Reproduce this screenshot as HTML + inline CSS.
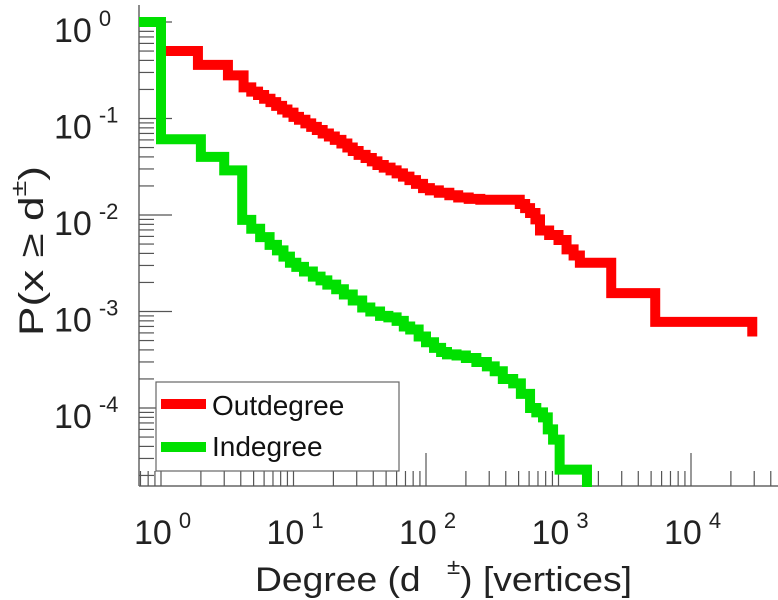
<!DOCTYPE html>
<html><head><meta charset="utf-8"><style>
html,body{margin:0;padding:0;background:#fff;}
svg{display:block;font-family:"Liberation Sans",sans-serif;}
</style></head><body>
<svg id="chart" width="778" height="600" viewBox="0 0 778 600" xmlns="http://www.w3.org/2000/svg">
<defs><clipPath id="clip"><rect x="139" y="0" width="639" height="487"/></clipPath></defs>
<g id="ticks"></g>
<g id="plot" clip-path="url(#clip)"></g>
<g id="labels"></g>
<text x="255" y="591" font-size="34" fill="#222" textLength="377" lengthAdjust="spacingAndGlyphs">Degree (d<tspan dx="24" dy="-17" font-size="22">±</tspan><tspan dy="17">) [vertices]</tspan></text>
<text transform="translate(43,336) rotate(-90)" font-size="34" fill="#222" textLength="170" lengthAdjust="spacingAndGlyphs">P(x ≥ d<tspan dy="-17" font-size="22">±</tspan><tspan dy="17">)</tspan></text>
<g>
<rect x="156" y="382" width="243" height="89" fill="#fff" stroke="#666" stroke-width="1.2"/>
<line x1="161" y1="404" x2="206" y2="404" stroke="#ff0000" stroke-width="10"/>
<text x="212" y="415" font-size="28" fill="#111">Outdegree</text>
<line x1="161" y1="447" x2="206" y2="447" stroke="#00e000" stroke-width="10"/>
<text x="212" y="456" font-size="28" fill="#111">Indegree</text>
</g>
</svg>
<script>
const outDeg = [1,1.9,3.2,4.2,4.8,5.4,6,6.7,7.4,8.2,9,10,11,12.3,13.6,15,16.6,18.5,20.5,23,25.5,28,31,35,39,43,48,54,60,67,75,84,95,107,125,150,175,210,257,510,560,610,670,725,850,1000,1150,1300,1450,2500,5370,29000];
const outP   = [0.5,0.36,0.28,0.21,0.19,0.175,0.16,0.148,0.135,0.124,0.115,0.104,0.097,0.089,0.082,0.076,0.07,0.065,0.06,0.055,0.05,0.046,0.042,0.039,0.036,0.033,0.031,0.029,0.027,0.025,0.023,0.021,0.019,0.018,0.017,0.016,0.0152,0.0147,0.0144,0.013,0.0118,0.0105,0.009,0.0069,0.0062,0.0055,0.0044,0.0038,0.0032,0.00155,0.00078,0.00055];
const inDeg  = [0.5,1,2,3,4.1,4.8,5.6,6.6,7.5,8.4,9.4,10.5,12,14,16,18,21,24,28,33,38,45,52,60,68,76,88,100,115,130,144,170,200,240,288,330,380,455,520,610,680,764,830,910,1020,1640];
const inP    = [1,0.061,0.04,0.029,0.0089,0.0072,0.0059,0.0049,0.0043,0.0037,0.0032,0.0029,0.0026,0.0023,0.0021,0.0019,0.0017,0.0015,0.0013,0.0011,0.001,0.0009,0.00087,0.0008,0.0007,0.00065,0.00055,0.00048,0.00042,0.00038,0.00036,0.00035,0.00033,0.0003,0.00027,0.00024,0.0002,0.00018,0.00014,0.0001,0.00009,0.00008,0.00006,0.000047,0.000023,0.000005];
const xDecades = [0,1,2,3,4];
const yDecades = [0,-1,-2,-3,-4];

const NS="http://www.w3.org/2000/svg";
const X0=161, XD=132.5, Y0=22, YD=96.5, AXL=139, AXB=486;
function sx(v){return X0+Math.log10(v)*XD;}
function sy(v){return Y0-Math.log10(v)*YD;}
function mk(tag,attrs,parent){const e=document.createElementNS(NS,tag);for(const k in attrs)e.setAttribute(k,attrs[k]);parent.appendChild(e);return e;}

const plot=document.getElementById('plot');
function stepPath(xs,ys){
  let d='M'+sx(xs[0])+','+sy(ys[0]);
  for(let i=1;i<xs.length;i++){d+=' H'+sx(xs[i])+' V'+sy(ys[i]);}
  return d;
}
const pOut=mk('path',{d:stepPath(outDeg,outP),fill:'none',stroke:'#ff0000','stroke-width':10,'stroke-linejoin':'miter','stroke-linecap':'butt'},plot);


const pIn=mk('path',{d:stepPath(inDeg,inP),fill:'none',stroke:'#00e000','stroke-width':10,'stroke-linejoin':'miter','stroke-linecap':'butt'},plot);



const tg=document.getElementById('ticks');
const ax=mk('line',{x1:AXL,y1:AXB,x2:778,y2:AXB,stroke:'#666','stroke-width':1.5},tg);


const ay=mk('line',{x1:AXL,y1:5,x2:AXL,y2:AXB,stroke:'#666','stroke-width':1.5},tg);


for(let d=-1;d<=4;d++){
  for(let m=1;m<=9;m++){
    const x=sx(m*Math.pow(10,d));
    if(x<AXL||x>777)continue;
    const len=m===1?33:15;
    const t=mk('line',{x1:x,y1:AXB,x2:x,y2:AXB-len,stroke:'#555','stroke-width':1.2},tg);
    
    
  }
}
for(let d=-5;d<=0;d++){
  for(let m=1;m<=9;m++){
    const y=sy(m*Math.pow(10,d));
    if(y<5||y>AXB)continue;
    const len=m===1?33:15;
    const t=mk('line',{x1:AXL,y1:y,x2:AXL+len,y2:y,stroke:'#555','stroke-width':1.2},tg);
    
    
  }
}
const lg=document.getElementById('labels');
xDecades.forEach(e=>{
  const x=sx(Math.pow(10,e));
  const t=mk('text',{x:x-27,y:544,'font-size':34,fill:'#222'},lg);
  
  
  t.textContent='10';
  const s=mk('tspan',{dx:7,dy:-16,'font-size':22},t);
  s.textContent=String(e);
});
yDecades.forEach(e=>{
  const y=sy(Math.pow(10,e));
  const t=mk('text',{x:54,y:y+20,'font-size':34,fill:'#222'},lg);
  
  
  t.textContent='10';
  const s=mk('tspan',{dx:7,dy:-16,'font-size':22},t);
  s.textContent=String(e);
});
</script>
</body></html>
